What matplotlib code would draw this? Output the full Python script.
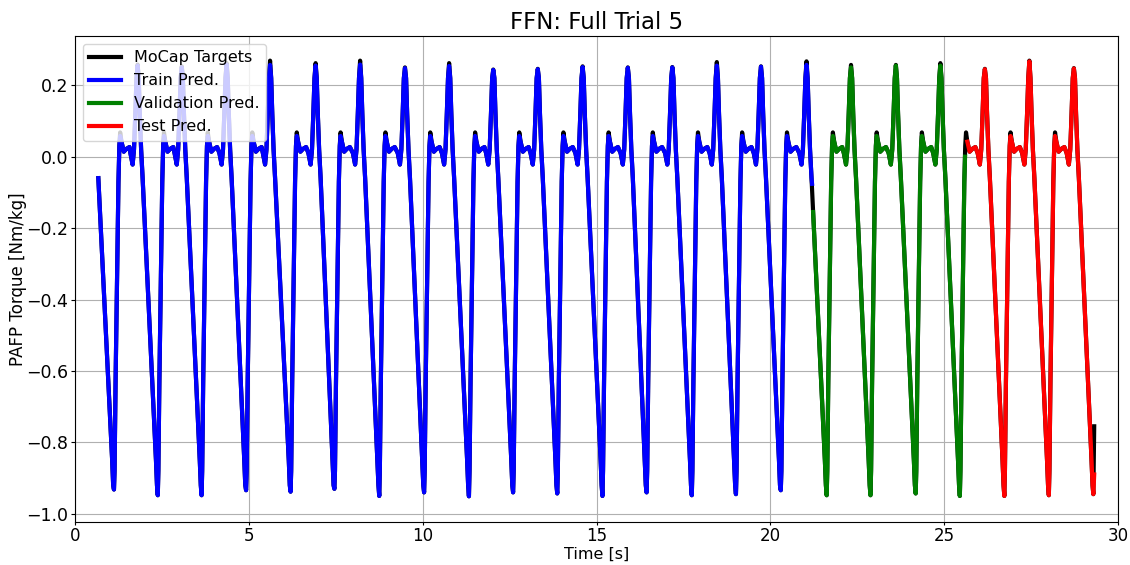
import numpy as np
import matplotlib
matplotlib.use("Agg")
import matplotlib.pyplot as plt

# Trial start sample (time [s], torque [Nm/kg])
start_time = 0.67
start_value = -0.06

# Gait-cycle minima (push-off troughs)
min_times = [1.12, 2.38, 3.64, 4.92, 6.20, 7.46, 8.75, 10.04, 11.33, 12.60,
             13.87, 15.17, 16.44, 17.74, 19.01, 20.30, 21.62, 22.88, 24.18,
             25.45, 26.73, 28.01, 29.29]
min_values = [-0.932, -0.948, -0.948, -0.934, -0.938, -0.930, -0.950, -0.940,
              -0.951, -0.940, -0.943, -0.950, -0.940, -0.948, -0.945, -0.934,
              -0.948, -0.948, -0.943, -0.950, -0.950, -0.948, -0.945]

# Main dorsiflexion peaks of each cycle
peak_times = [1.80, 3.07, 4.36, 5.61, 6.92, 8.20, 9.49, 10.76, 12.03, 13.31,
              14.60, 15.90, 17.18, 18.46, 19.73, 21.04, 22.32, 23.61, 24.89,
              26.17, 27.45, 28.73]
target_peaks = [0.258, 0.253, 0.262, 0.269, 0.262, 0.269, 0.250, 0.262, 0.244,
                0.246, 0.253, 0.250, 0.251, 0.265, 0.253, 0.267, 0.257, 0.257,
                0.262, 0.246, 0.269, 0.248]
pred_peaks = [0.255, 0.250, 0.258, 0.257, 0.255, 0.258, 0.248, 0.254, 0.243,
              0.245, 0.251, 0.249, 0.250, 0.255, 0.252, 0.257, 0.250, 0.255,
              0.255, 0.245, 0.267, 0.247]

# Secondary (heel-strike) peak after each trough
target_local_peak = 0.068
pred_local_peak = 0.058

# Shape of the stance phase around the trough and the main peak
before_min_offsets = [-0.052, -0.023]
before_min_values = [-0.85, -0.92]
rise_offsets = [0.017, 0.046, 0.095, 0.129, 0.155]
rise_values = [-0.88, -0.63, -0.30, -0.07, 0.03]
local_peak_offset = 0.178
settle_offsets = [0.216, 0.282, 0.360, 0.446]
settle_values = [0.042, 0.014, 0.022, 0.027]
around_peak_before = [-0.207, -0.144, -0.104, -0.066, -0.032]
around_peak_before_values = [0.010, -0.022, 0.020, 0.120, 0.220]
around_peak_after = [0.032, 0.063, 0.101, 0.144]
around_peak_after_values = [0.220, 0.120, 0.020, -0.060]

# Final samples
end_time = 29.315
target_end_value = -0.755
pred_end_value = -0.89

# Split boundaries of the prediction sets
train_end = (21.20, -0.076)
val_start = (21.23, -0.155)
val_end = (25.60, 0.0)
test_start_time = 25.63


def build_trace(peaks, local_peak, end_value):
    ts, ys = [start_time], [start_value]
    for i, (tm, vm) in enumerate(zip(min_times, min_values)):
        ts += [tm + o for o in before_min_offsets] + [tm]
        ys += list(before_min_values) + [vm]
        if i < len(peak_times):
            ts += [tm + o for o in rise_offsets]
            ys += list(rise_values)
            ts.append(tm + local_peak_offset)
            ys.append(local_peak)
            ts += [tm + o for o in settle_offsets]
            ys += list(settle_values)
            tp = peak_times[i]
            ts += [tp + o for o in around_peak_before] + [tp]
            ys += list(around_peak_before_values) + [peaks[i]]
            ts += [tp + o for o in around_peak_after]
            ys += list(around_peak_after_values)
    ts.append(end_time)
    ys.append(end_value)
    return np.array(ts), np.array(ys)


t_target, y_target = build_trace(target_peaks, target_local_peak, target_end_value)
t_pred, y_pred = build_trace(pred_peaks, pred_local_peak, pred_end_value)

m_train = t_pred <= train_end[0]
t_train = np.append(t_pred[m_train], train_end[0])
y_train = np.append(y_pred[m_train], train_end[1])

m_val = (t_pred > val_start[0]) & (t_pred < val_end[0])
t_val = np.concatenate([[val_start[0]], t_pred[m_val], [val_end[0]]])
y_val = np.concatenate([[val_start[1]], y_pred[m_val], [val_end[1]]])

m_test = t_pred >= test_start_time - 1e-6
t_test = t_pred[m_test]
y_test = y_pred[m_test]

plt.rcParams['font.family'] = ['DejaVu Sans']
fig = plt.figure(figsize=(11.3, 5.65), dpi=100)
ax = fig.add_axes([0.0664, 0.0761, 0.9230, 0.8602])

lw = 3.0
ax.plot(t_target, y_target, color='black', lw=lw, label='MoCap Targets')
ax.plot(t_train, y_train, color='blue', lw=lw, label='Train Pred.')
ax.plot(t_val, y_val, color='green', lw=lw, label='Validation Pred.')
ax.plot(t_test, y_test, color='red', lw=lw, label='Test Pred.')

ax.set_xlim(0, 30)
ax.set_ylim(-1.023, 0.338)
ax.set_xticks([0, 5, 10, 15, 20, 25, 30])
ax.set_yticks([-1.0, -0.8, -0.6, -0.4, -0.2, 0.0, 0.2])
ax.grid(True, color='#b0b0b0', lw=0.8)
ax.tick_params(labelsize=12.5, pad=2.0, length=3.0)
ax.tick_params(axis='x', labelsize=12, pad=1.0, length=2.5)
ax.set_xlabel('Time [s]', fontsize=11.5)
ax.set_ylabel('PAFP Torque [Nm/kg]', fontsize=12)
ax.xaxis.set_label_coords(0.5, -0.0505)
ax.yaxis.set_label_coords(-0.046, 0.5)
ax.set_title('FFN: Full Trial 5', fontsize=16.5, pad=5)
ax.legend(loc='upper left', fontsize=11.5, handlelength=2.0,
          borderaxespad=0.5, labelspacing=0.5)

fig.savefig('out.png', dpi=100)
